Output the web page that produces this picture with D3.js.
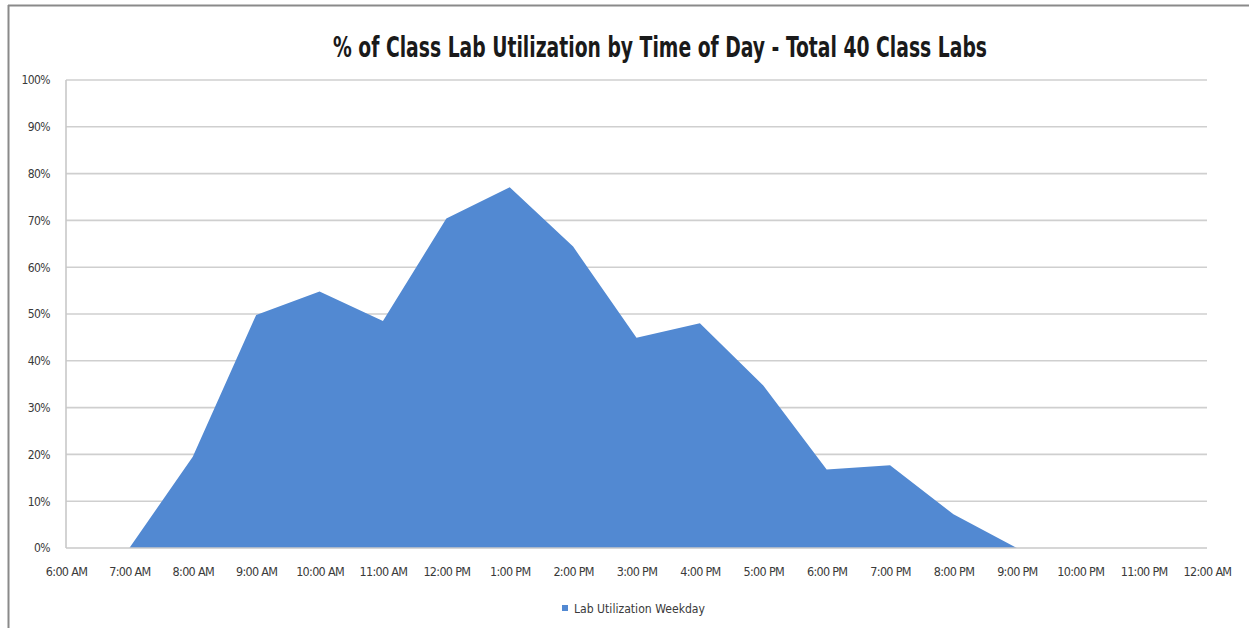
<!DOCTYPE html>
<html>
<head>
<meta charset="utf-8">
<script src="https://cdn.jsdelivr.net/npm/d3@7/dist/d3.min.js"></script>
<style>
  html, body { margin: 0; padding: 0; background: #fff; }
  svg { display: block; }
  .narrow { font-family: "DejaVu Sans Condensed", "Liberation Sans Narrow", sans-serif; }
</style>
</head>
<body>
<svg id="chart" width="1249" height="628"></svg>
<script>
// Hourly time slots shown along the category axis
const timeSlots = [
  "6:00 AM", "7:00 AM", "8:00 AM", "9:00 AM", "10:00 AM", "11:00 AM",
  "12:00 PM", "1:00 PM", "2:00 PM", "3:00 PM", "4:00 PM", "5:00 PM",
  "6:00 PM", "7:00 PM", "8:00 PM", "9:00 PM", "10:00 PM", "11:00 PM", "12:00 AM"
];
// Share of the 40 class labs in use at each slot (weekdays), in percent
const weekdayUtilization = [
  0, 0, 19.5, 49.8, 54.8, 48.5,
  70.4, 77.1, 64.4, 44.9, 48.0, 34.7,
  16.8, 17.7, 7.2, 0, 0, 0, 0
];
const yTicks = [0, 10, 20, 30, 40, 50, 60, 70, 80, 90, 100];
const titleText = "% of Class Lab Utilization by Time of Day - Total 40 Class Labs";
const seriesName = "Lab Utilization Weekday";

const svg = d3.select("#chart");
const W = 1249, H = 628;
const plot = { left: 66, right: 1207, top: 80, bottom: 548 };
const areaColor = "#5289d2";
const labelColor = "#3a3a3a";

// Outer chart frame (top and left edges visible)
svg.append("line").attr("x1", 8).attr("x2", W).attr("y1", 5.5).attr("y2", 5.5)
  .attr("stroke", "#8a8a8a").attr("stroke-width", 2);
svg.append("line").attr("x1", 8.5).attr("x2", 8.5).attr("y1", 5).attr("y2", H)
  .attr("stroke", "#8a8a8a").attr("stroke-width", 2);

const x = d3.scalePoint().domain(timeSlots).range([plot.left, plot.right]);
const y = d3.scaleLinear().domain([0, 100]).range([plot.bottom, plot.top]);

// Horizontal gridlines
svg.append("g").selectAll("line").data(yTicks.filter(d => d > 0)).join("line")
  .attr("x1", plot.left).attr("x2", plot.right)
  .attr("y1", d => y(d)).attr("y2", d => y(d))
  .attr("stroke", "#cfcfcf").attr("stroke-width", 1.6);

// Filled area series
const area = d3.area()
  .x((d, i) => x(timeSlots[i]))
  .y0(y(0))
  .y1(d => y(d));
svg.append("path").datum(weekdayUtilization)
  .attr("d", area)
  .attr("fill", areaColor);

// Axis lines
svg.append("line").attr("x1", plot.left).attr("x2", plot.right)
  .attr("y1", y(0)).attr("y2", y(0)).attr("stroke", "#c8c8c8").attr("stroke-width", 1.6);
svg.append("line").attr("x1", plot.left).attr("x2", plot.left)
  .attr("y1", plot.top).attr("y2", plot.bottom).attr("stroke", "#c8c8c8").attr("stroke-width", 1.6);

// Y axis labels
const yAxis = d3.axisLeft(y).tickValues(yTicks).tickFormat(d => d + "%").tickSize(0).tickPadding(16);
const gy = svg.append("g").attr("transform", `translate(${plot.left},0)`).call(yAxis);
gy.select(".domain").remove();
gy.selectAll("text").attr("class", "narrow").attr("font-size", 12).attr("fill", labelColor)
  .attr("letter-spacing", -0.6);

// X axis labels
const xAxis = d3.axisBottom(x).tickSize(0).tickPadding(19);
const gx = svg.append("g").attr("transform", `translate(0,${plot.bottom})`).call(xAxis);
gx.select(".domain").remove();
gx.selectAll("text").attr("class", "narrow").attr("font-size", 12.5).attr("fill", labelColor)
  .attr("letter-spacing", -0.7);

// Title (compressed to a condensed width)
svg.append("text").attr("class", "narrow")
  .attr("x", 660).attr("y", 57).attr("text-anchor", "middle")
  .attr("font-size", 29).attr("font-weight", "bold").attr("fill", "#1a1a1a")
  .attr("textLength", 654).attr("lengthAdjust", "spacingAndGlyphs")
  .text(titleText);

// Legend
const lg = svg.append("g").attr("transform", "translate(562,603)");
lg.append("rect").attr("width", 6).attr("height", 6).attr("y", 2).attr("fill", areaColor);
lg.append("text").attr("class", "narrow").attr("x", 12).attr("y", 10)
  .attr("font-size", 13).attr("fill", labelColor)
  .attr("textLength", 131).attr("lengthAdjust", "spacingAndGlyphs")
  .text(seriesName);
</script>
</body>
</html>
